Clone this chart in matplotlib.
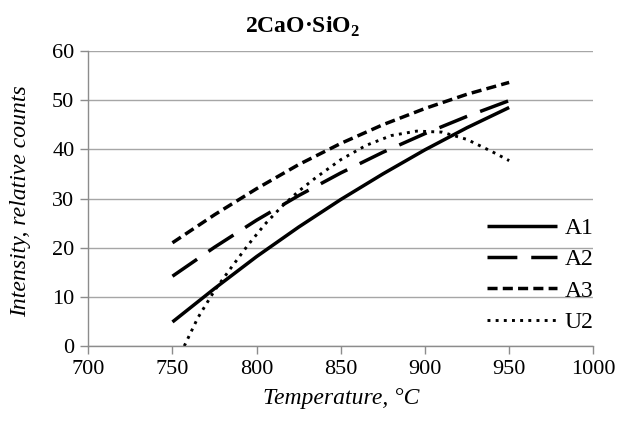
import numpy as np
import matplotlib
matplotlib.use('Agg')
import matplotlib.pyplot as plt

plt.rcParams['font.family'] = ['Liberation Serif', 'DejaVu Serif']
plt.rcParams['mathtext.fontset'] = 'custom'
plt.rcParams['mathtext.rm'] = 'Liberation Serif'
plt.rcParams['mathtext.bf'] = 'Liberation Serif:bold'

# temperature grid for the A-series (degC)
temp_a = [750, 775, 800, 825, 850, 875, 900, 925, 950]
a1 = [4.9, 11.7, 18.2, 24.2, 29.8, 35.0, 39.9, 44.4, 48.5]
a2 = [14.2, 20.1, 25.6, 30.6, 35.2, 39.4, 43.2, 46.7, 49.9]
a3 = [21.0, 26.7, 32.0, 36.9, 41.2, 45.0, 48.3, 51.2, 53.6]

# U2 trend
temp_u = [757, 765, 775, 785, 795, 805, 815, 825, 835, 850, 865, 880, 895, 910, 925, 940, 950]
u2 = [0.0, 5.7, 11.3, 16.0, 20.6, 24.8, 28.4, 31.5, 34.2, 37.9, 40.8, 42.8, 43.7, 43.5, 42.0, 39.5, 37.7]

xticks = [700, 750, 800, 850, 900, 950, 1000]
yticks = [0, 10, 20, 30, 40, 50, 60]

fig = plt.figure(figsize=(6.28, 4.21), dpi=100)
ax = fig.add_axes([0.1406, 0.178, 0.8042, 0.701])

grid_col = '#a6a6a6'
for y in yticks:
    ax.axhline(y, color=grid_col, linewidth=1.0, zorder=0)

ax.plot(temp_a, a1, color='black', linewidth=2.5, label='A1', solid_capstyle='butt')
ax.plot(temp_a, a2, color='black', linewidth=2.5, dashes=(8.6, 4.0), label='A2', dash_capstyle='butt')
ax.plot(temp_a, a3, color='black', linewidth=2.5, dashes=(2.9, 1.5), label='A3', dash_capstyle='butt')
ax.plot(temp_u, u2, color='black', linewidth=2.1, dashes=(1.0, 1.8), label='U2', dash_capstyle='butt')

ax.set_xlim(700, 1000)
ax.set_ylim(0, 60)
ax.set_xticks(xticks)
ax.set_yticks(yticks)

for s in ['top', 'right']:
    ax.spines[s].set_visible(False)
for s in ['left', 'bottom']:
    ax.spines[s].set_color('#8c8c8c')
    ax.spines[s].set_linewidth(1.0)

ax.tick_params(axis='both', direction='out', length=6, width=1.0, color='#8c8c8c',
               labelsize=16, labelcolor='black', pad=4)

ax.set_xlabel('Temperature, °C', fontsize=17, style='italic')
ax.set_ylabel('Intensity, relative counts', fontsize=17, style='italic')
ax.xaxis.set_label_coords(0.5, -0.176, transform=ax.transAxes)
ax.yaxis.set_label_coords(-0.135, 0.49, transform=ax.transAxes)
ax.xaxis.label.set_va('center')
ax.yaxis.label.set_va('center')

fig.text(0.482, 0.935, r'2CaO·SiO$_\mathbf{2}$', fontsize=17, fontweight='bold',
         ha='center', va='center')

ax.legend(loc='center right', bbox_to_anchor=(1.0, 0.24), frameon=False,
          fontsize=17, handlelength=3.0, handletextpad=0.3, labelspacing=0.42,
          borderpad=0, borderaxespad=0)

fig.savefig('out.png', dpi=100)
